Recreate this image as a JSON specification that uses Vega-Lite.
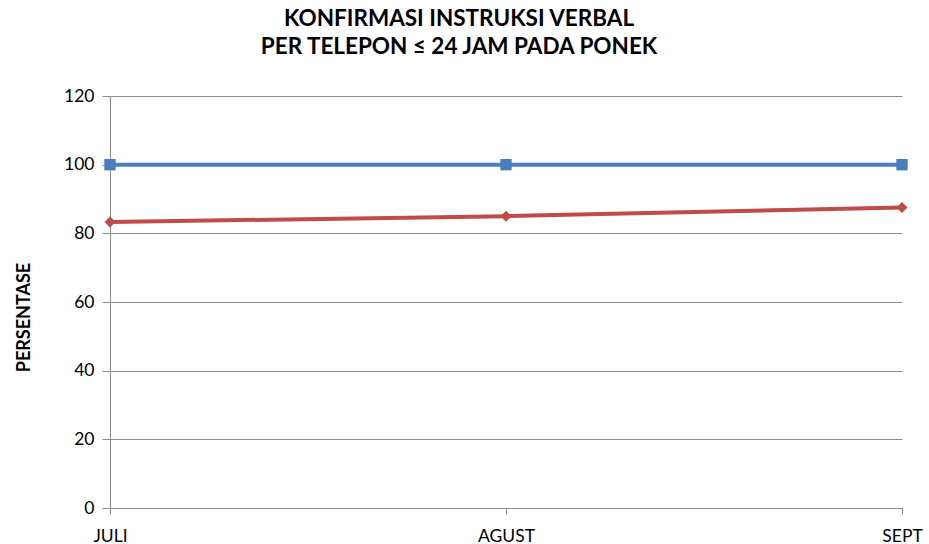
{
  "$schema": "https://vega.github.io/schema/vega-lite/v6.json",
  "width": 792,
  "height": 412,
  "autosize": {"type": "none"},
  "padding": {"left": 110, "top": 96, "right": 27, "bottom": 36},
  "background": "white",
  "title": {
    "text": ["KONFIRMASI INSTRUKSI VERBAL", "PER TELEPON ≤ 24 JAM PADA PONEK"],
    "font": "Lato",
    "fontSize": 22.5,
    "fontWeight": "bold",
    "color": "#000000",
    "anchor": "middle",
    "frame": "group",
    "lineHeight": 28,
    "offset": 29,
    "dx": -47
  },
  "config": {
    "view": {"stroke": null},
    "axis": {"labelFont": "Lato", "titleFont": "Lato", "labelColor": "#000000", "titleColor": "#000000"}
  },
  "data": {
    "values": [
      {"bulan": "JULI", "seri": "Target", "nilai": 100},
      {"bulan": "AGUST", "seri": "Target", "nilai": 100},
      {"bulan": "SEPT", "seri": "Target", "nilai": 100},
      {"bulan": "JULI", "seri": "Capaian", "nilai": 83.3},
      {"bulan": "AGUST", "seri": "Capaian", "nilai": 85},
      {"bulan": "SEPT", "seri": "Capaian", "nilai": 87.5}
    ]
  },
  "encoding": {
    "x": {
      "field": "bulan",
      "type": "ordinal",
      "sort": ["JULI", "AGUST", "SEPT"],
      "scale": {"type": "point", "padding": 0},
      "axis": {
        "title": null,
        "labelAngle": 0,
        "labelFontSize": 17.5,
        "labelPadding": 13,
        "domainColor": "#8c8c8c",
        "tickColor": "#8c8c8c",
        "tickSize": 6,
        "grid": false
      }
    },
    "y": {
      "field": "nilai",
      "type": "quantitative",
      "scale": {"domain": [0, 120], "nice": false},
      "axis": {
        "title": "PERSENTASE",
        "titleFontSize": 18,
        "titleFontWeight": "bold",
        "titleBaseline": "middle",
        "titleX": -86,
        "titleY": 221,
        "values": [0, 20, 40, 60, 80, 100, 120],
        "labelFontSize": 17.5,
        "labelPadding": 8,
        "domainColor": "#8c8c8c",
        "tickColor": "#8c8c8c",
        "tickSize": 8,
        "gridColor": "#8c8c8c",
        "gridWidth": 1
      }
    },
    "color": {
      "field": "seri",
      "type": "nominal",
      "scale": {"domain": ["Target", "Capaian"], "range": ["#4a7ebb", "#be4b48"]},
      "legend": null
    }
  },
  "layer": [
    {"mark": {"type": "line", "strokeWidth": 4}},
    {
      "mark": {"type": "point", "filled": true, "opacity": 1},
      "encoding": {
        "shape": {
          "field": "seri",
          "type": "nominal",
          "scale": {"domain": ["Target", "Capaian"], "range": ["square", "diamond"]},
          "legend": null
        },
        "size": {
          "field": "seri",
          "type": "nominal",
          "scale": {"domain": ["Target", "Capaian"], "range": [130, 120]},
          "legend": null
        }
      }
    }
  ]
}
